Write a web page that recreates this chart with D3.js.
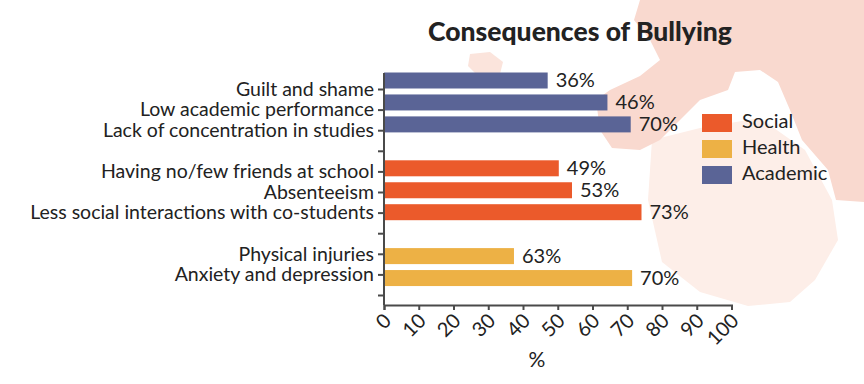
<!DOCTYPE html>
<html>
<head>
<meta charset="utf-8">
<script src="https://cdn.jsdelivr.net/npm/d3@7"></script>
<style>
  html, body { margin: 0; padding: 0; background: #ffffff; }
  svg { display: block; }
  text { font-family: Lato, "Noto Sans", sans-serif; fill: #222; }
</style>
</head>
<body>
<svg id="chart" width="864" height="384"></svg>
<script>
// ---- data ----
const categories = [
  "Guilt and shame",
  "Low academic performance",
  "Lack of concentration in studies",
  "Having no/few friends at school",
  "Absenteeism",
  "Less social interactions with co-students",
  "Physical injuries",
  "Anxiety and depression"
];
const groups = ["Academic","Academic","Academic","Social","Social","Social","Health","Health"];
const barValues = [47.1, 64.3, 71.0, 50.3, 54.1, 74.1, 37.4, 71.4];
const valueLabels = ["36%","46%","70%","49%","53%","73%","63%","70%"];
const rows = [
  "Guilt and shame","Low academic performance","Lack of concentration in studies","gap1",
  "Having no/few friends at school","Absenteeism","Less social interactions with co-students","gap2",
  "Physical injuries","Anxiety and depression","gap3"
];
const xTicks = [0,10,20,30,40,50,60,70,80,90,100];
const legendItems = ["Social","Health","Academic"];
const title = "Consequences of Bullying";
const xTitle = "%";

// ---- styles ----
const colors = { Social: "#eb5a2b", Health: "#edb145", Academic: "#5a6496" };
const axisColor = "#4a4a4a";
const fontFam = "Lato, 'Noto Sans', sans-serif";

const svg = d3.select("#chart");

// background decoration (faint map shapes)
const bg = svg.append("g");
const shapeLine = d3.line().curve(d3.curveLinearClosed);
bg.append("path")
  .attr("d", shapeLine([[652,140],[700,128],[760,118],[805,150],[832,200],[838,240],[815,280],[790,302],[748,306],[700,292],[662,262],[648,200]]))
  .attr("fill", "#fdeee8");
bg.append("path")
  .attr("d", shapeLine([[640,0],[864,0],[864,202],[836,200],[828,170],[802,140],[790,110],[778,82],[760,70],[735,72],[728,90],[700,100],[680,120],[660,140],[640,150],[612,148],[600,130],[596,100],[610,90],[640,76],[660,60],[650,40],[634,20]]))
  .attr("fill", "#f9d9cf");
bg.append("path")
  .attr("d", shapeLine([[470,54],[490,52],[503,62],[500,74],[478,76],[468,66]]))
  .attr("fill", "#fbe4dc");

// ---- scales ----
const x = d3.scaleLinear().domain([0, 100]).range([384, 731.5]);
const yTick = d3.scalePoint().domain(rows).range([89, 295]);
const yBar = d3.scalePoint().domain(rows).range([80.5, 300]);
const barH = 16;
const axisY = 305;
const axisTop = 73;

// ---- bars ----
svg.append("g").selectAll("rect")
  .data(categories)
  .join("rect")
  .attr("x", x(0))
  .attr("y", (d) => yBar(d) - barH / 2)
  .attr("width", (d, i) => x(barValues[i]) - x(0))
  .attr("height", barH)
  .attr("fill", (d, i) => colors[groups[i]]);

// ---- value labels ----
svg.append("g").selectAll("text")
  .data(categories)
  .join("text")
  .attr("x", (d, i) => x(barValues[i]) + 8)
  .attr("y", (d) => yBar(d) + 1.5)
  .attr("dominant-baseline", "middle")
  .attr("font-size", 20)
  .text((d, i) => valueLabels[i]);

// ---- y axis ----
const yAxis = d3.axisLeft(yTick)
  .tickSize(6)
  .tickPadding(4)
  .tickFormat((d) => categories.includes(d) ? d : "");
const gy = svg.append("g").attr("transform", `translate(${x(0)},0)`).call(yAxis);
gy.select(".domain").remove();
gy.selectAll(".tick line").attr("stroke", axisColor).attr("stroke-width", 2);
gy.selectAll(".tick text").attr("font-size", 19.5).attr("fill", "#222")
  .attr("font-family", fontFam);
svg.append("line")
  .attr("x1", x(0)).attr("x2", x(0))
  .attr("y1", axisTop).attr("y2", axisY)
  .attr("stroke", axisColor).attr("stroke-width", 2);

// ---- x axis ----
const xAxis = d3.axisBottom(x).tickValues(xTicks).tickSize(5).tickFormat(d3.format("d"));
const gx = svg.append("g").attr("transform", `translate(0,${axisY})`).call(xAxis);
gx.select(".domain").attr("stroke", axisColor).attr("stroke-width", 2);
gx.selectAll(".tick line").attr("stroke", axisColor).attr("stroke-width", 2);
gx.selectAll(".tick text")
  .attr("font-size", 20)
  .attr("fill", "#222")
  .attr("font-family", fontFam)
  .attr("text-anchor", "end")
  .attr("dy", "0.35em")
  .attr("y", 0)
  .attr("transform", "translate(3,12) rotate(-45)");

// x title
svg.append("text")
  .attr("x", 537).attr("y", 367)
  .attr("text-anchor", "middle")
  .attr("font-size", 21)
  .text(xTitle);

// ---- title ----
svg.append("text")
  .attr("x", 580).attr("y", 41)
  .attr("text-anchor", "middle")
  .attr("font-size", 26.5)
  .attr("font-weight", 900)
  .text(title);

// ---- legend ----
const legendY = d3.scalePoint().domain(legendItems).range([123, 175]);
const lg = svg.append("g");
lg.selectAll("rect").data(legendItems).join("rect")
  .attr("x", 702).attr("y", (d) => legendY(d) - 9)
  .attr("width", 30).attr("height", 18)
  .attr("fill", (d) => colors[d]);
lg.selectAll("text").data(legendItems).join("text")
  .attr("x", 742).attr("y", (d) => legendY(d))
  .attr("dominant-baseline", "middle")
  .attr("font-size", 20)
  .text((d) => d);
</script>
</body>
</html>
